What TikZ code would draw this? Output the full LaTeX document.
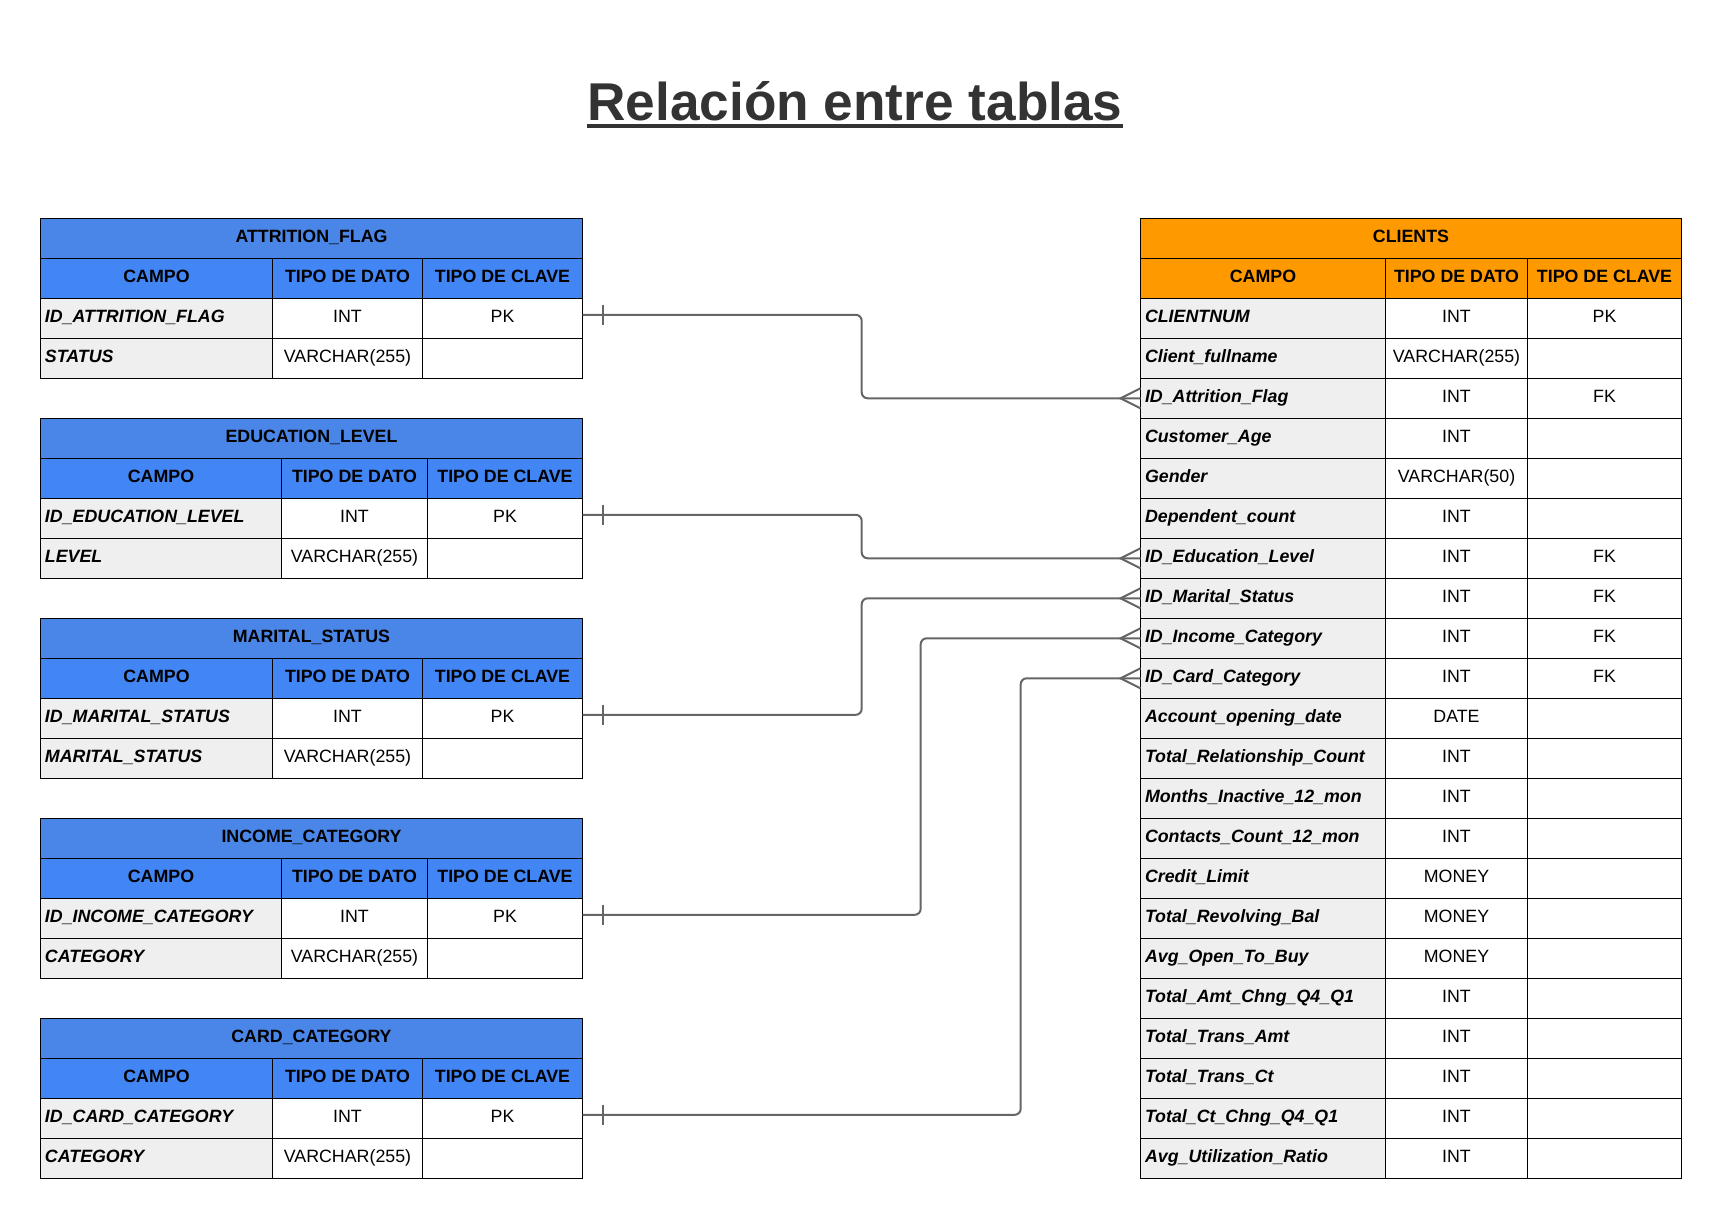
\documentclass[tikz,border=0pt]{standalone}
\usepackage{fontspec}
\setmainfont{Liberation Sans}
\usepackage{xcolor}
\usepackage{tikz}
\usetikzlibrary{calc,positioning}
\definecolor{azultit}{HTML}{4A86E8}
\definecolor{azulcab}{HTML}{4285F4}
\definecolor{naranjatit}{HTML}{FF9900}
\definecolor{naranjacab}{HTML}{FF9900}
\definecolor{grisclaro}{HTML}{EFEFEF}
\definecolor{grislinea}{HTML}{666666}
\definecolor{tinta}{HTML}{333333}

\tikzset{
  celda/.style={draw=black, line width=0.6pt, minimum height=20pt, inner sep=0pt,
    outer sep=0pt, anchor=north west, text height=6.5pt, text depth=2.5pt,
    font=\fontsize{8.9}{10.5}\selectfont},
  cab/.style={celda, font=\fontsize{8.9}{10.5}\selectfont\bfseries},
  campo/.style={celda, fill=grisclaro, align=left, inner xsep=2.25pt,
    font=\fontsize{8.9}{10.5}\selectfont\bfseries\itshape},
  relacion/.style={draw=grislinea, line width=1pt, rounded corners=3pt},
}

% #1 nombre, #2 posicion, #3-#5 anchos (px), #6 color, #7 titulo, #8 filas
\newcommand{\tabla}[8]{%
  \pgfmathsetlengthmacro\anchoA{#3*0.5pt}
  \pgfmathsetlengthmacro\anchoB{#4*0.5pt}
  \pgfmathsetlengthmacro\anchoC{#5*0.5pt}
  \pgfmathsetlengthmacro\anchoT{(#3+#4+#5)*0.5pt}
  \pgfmathsetlengthmacro\textoA{#3*0.5pt-4.5pt}
  \node[cab, fill=#6tit, minimum width=\anchoT] (#1-t) at #2 {#7};
  \node[cab, fill=#6cab, minimum width=\anchoA] (#1-0-1) at (#1-t.south west) {CAMPO};
  \node[cab, fill=#6cab, minimum width=\anchoB] (#1-0-2) at (#1-0-1.north east) {TIPO DE DATO};
  \node[cab, fill=#6cab, minimum width=\anchoC] (#1-0-3) at (#1-0-2.north east) {TIPO DE CLAVE};
  \foreach \campo/\tipo/\clave [count=\i] in {#8}{
    \pgfmathtruncatemacro\j{\i-1}
    \node[campo, text width=\textoA] (#1-\i-1) at (#1-\j-1.south west) {\campo};
    \node[celda, minimum width=\anchoB] (#1-\i-2) at (#1-\i-1.north east) {\tipo};
    \node[celda, minimum width=\anchoC] (#1-\i-3) at (#1-\i-2.north east) {\clave};
  }
}

\begin{document}
\begin{tikzpicture}[x=0.5pt, y=-0.5pt]
\path[use as bounding box, fill=white] (0,0) rectangle (1721,1218);

\node[font=\fontsize{26.6}{32}\selectfont\bfseries, text=tinta, inner sep=0pt, anchor=base]
  (titulo) at (855,121) {Relación entre tablas};
\draw[tinta, line width=1.75pt] ([yshift=-2.6pt]titulo.base west) -- ([yshift=-2.6pt]titulo.base east);

% tablas de la izquierda
\tabla{att}{(40.5,218.3)}{232}{150}{160}{azul}{ATTRITION\_FLAG}
  {ID\_ATTRITION\_FLAG/INT/PK, STATUS/VARCHAR(255)/{}}
\tabla{edu}{(40.5,418.3)}{241}{146}{155}{azul}{EDUCATION\_LEVEL}
  {ID\_EDUCATION\_LEVEL/INT/PK, LEVEL/VARCHAR(255)/{}}
\tabla{mar}{(40.5,618.3)}{232}{150}{160}{azul}{MARITAL\_STATUS}
  {ID\_MARITAL\_STATUS/INT/PK, MARITAL\_STATUS/VARCHAR(255)/{}}
\tabla{inc}{(40.5,818.3)}{241}{146}{155}{azul}{INCOME\_CATEGORY}
  {ID\_INCOME\_CATEGORY/INT/PK, CATEGORY/VARCHAR(255)/{}}
\tabla{car}{(40.5,1018.3)}{232}{150}{160}{azul}{CARD\_CATEGORY}
  {ID\_CARD\_CATEGORY/INT/PK, CATEGORY/VARCHAR(255)/{}}

% tabla principal
\tabla{cli}{(1140.5,218.3)}{245}{142}{154}{naranja}{CLIENTS}
  {CLIENTNUM/INT/PK, Client\_fullname/VARCHAR(255)/{}, ID\_Attrition\_Flag/INT/FK,
   Customer\_Age/INT/{}, Gender/VARCHAR(50)/{}, Dependent\_count/INT/{},
   ID\_Education\_Level/INT/FK, ID\_Marital\_Status/INT/FK, ID\_Income\_Category/INT/FK,
   ID\_Card\_Category/INT/FK, Account\_opening\_date/DATE/{},
   Total\_Relationship\_Count/INT/{}, Months\_Inactive\_12\_mon/INT/{},
   Contacts\_Count\_12\_mon/INT/{}, Credit\_Limit/MONEY/{}, Total\_Revolving\_Bal/MONEY/{},
   Avg\_Open\_To\_Buy/MONEY/{}, Total\_Amt\_Chng\_Q4\_Q1/INT/{}, Total\_Trans\_Amt/INT/{},
   Total\_Trans\_Ct/INT/{}, Total\_Ct\_Chng\_Q4\_Q1/INT/{}, Avg\_Utilization\_Ratio/INT/{}}

% relaciones
\coordinate (codoA) at (861.7,0);
\coordinate (codoB) at (920.7,0);
\coordinate (codoC) at (1020.7,0);
\foreach \pk/\fk/\codo in {att-1-3/cli-3-1/codoA, edu-1-3/cli-7-1/codoA,
    mar-1-3/cli-8-1/codoA, inc-1-3/cli-9-1/codoB, car-1-3/cli-10-1/codoC}{
  \draw[relacion] ([yshift=1.75pt]\pk.east) -- ([yshift=1.75pt]\pk.east -| \codo)
    -- (\fk.west -| \codo) -- (\fk.west);
  \draw[relacion] ([xshift=10pt,yshift=6.75pt]\pk.east) -- ([xshift=10pt,yshift=-3.25pt]\pk.east);
  \draw[relacion, sharp corners] ([yshift=5pt]\fk.west) -- ([xshift=-10pt]\fk.west)
    -- ([yshift=-5pt]\fk.west);
}
\end{tikzpicture}
\end{document}
